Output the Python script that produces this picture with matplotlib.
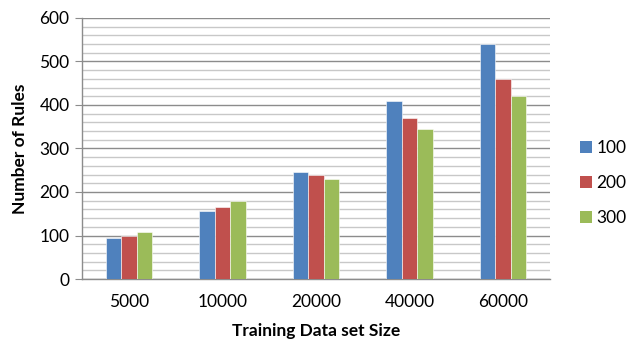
import matplotlib.pyplot as plt
from matplotlib.lines import Line2D
import numpy as np

# Rule counts per training set size, one series per setting
sizes = ['5000', '10000', '20000', '40000', '60000']
series_names = ['100', '200', '300']
rules_100 = [94, 156, 247, 410, 541]
rules_200 = [100, 165, 240, 370, 460]
rules_300 = [108, 179, 230, 345, 420]
colors = ['#4f81bd', '#c0504d', '#9bbb59']

plt.rcParams['font.family'] = ['Lato', 'DejaVu Sans']

fig = plt.figure(figsize=(6.27, 3.45), dpi=100)
ax = fig.add_axes([82 / 627, 1 - 279 / 345, 468 / 627, 261 / 345])

x = np.arange(len(sizes))
width = 0.165
for i, (vals, name) in enumerate(zip([rules_100, rules_200, rules_300], series_names)):
    ax.bar(x + (i - 1) * width, vals, width, color=colors[i], label=name,
           edgecolor='white', linewidth=0.4, zorder=3)

ax.set_xlim(-0.5, len(sizes) - 0.5)
ax.set_ylim(0, 600)
ax.set_yticks(range(0, 601, 100))
ax.set_yticks(range(0, 601, 20), minor=True)
ax.set_xticks(x)
ax.set_xticklabels(sizes)

ax.grid(axis='y', which='minor', color='#c8c8c8', linewidth=1.0, zorder=0)
ax.grid(axis='y', which='major', color='#8c8c8c', linewidth=1.0, zorder=1)

for side in ['top', 'right']:
    ax.spines[side].set_visible(False)
for side in ['left', 'bottom']:
    ax.spines[side].set_color('#8c8c8c')
    ax.spines[side].set_linewidth(1.0)

ax.tick_params(axis='y', which='major', length=5, color='#8c8c8c', labelsize=12.5, pad=4)
ax.tick_params(axis='y', which='minor', length=0)
ax.tick_params(axis='x', length=0, labelsize=12.5, pad=11)

ax.set_ylabel('Number of Rules', fontsize=12.5, fontweight='bold', labelpad=8)
ax.set_xlabel('Training Data set Size', fontsize=12.5, fontweight='bold', labelpad=9)

# plain square swatches for the legend
handles = [Line2D([], [], marker='s', linestyle='none', markersize=8,
                  markerfacecolor=c, markeredgewidth=0) for c in colors]
fig.legend(handles, series_names, loc='center left',
           bbox_to_anchor=(580 / 627, 1 - 183 / 345), frameon=False,
           fontsize=12.5, handlelength=0.7, handletextpad=0.25,
           labelspacing=1.1, borderpad=0, borderaxespad=0)

fig.savefig('out.png', dpi=100)
